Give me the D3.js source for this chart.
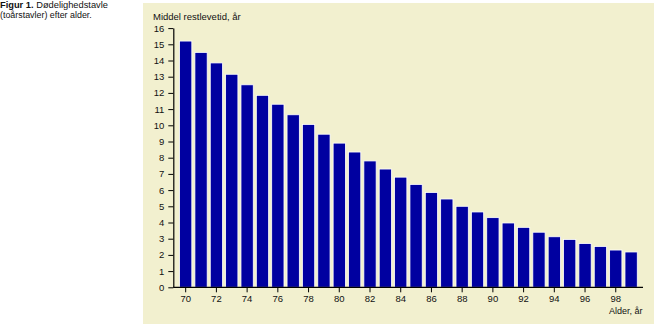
<!DOCTYPE html>
<html>
<head>
<meta charset="utf-8">
<script src="https://cdn.jsdelivr.net/npm/d3@7"></script>
<style>
  html, body { margin: 0; padding: 0; background: #ffffff; }
  svg { display: block; }
  text { font-family: "Liberation Sans", Arial, sans-serif; fill: #111; }
</style>
</head>
<body>
<script>
// Data
const ages = [70,71,72,73,74,75,76,77,78,79,80,81,82,83,84,85,86,87,88,89,90,91,92,93,94,95,96,97,98,99];
const restlevetid = [15.2,14.5,13.85,13.15,12.5,11.85,11.3,10.65,10.05,9.45,8.9,8.35,7.8,7.3,6.8,6.35,5.85,5.45,5.0,4.65,4.3,3.97,3.7,3.4,3.12,2.95,2.7,2.52,2.3,2.18];
const yTicks = [0,1,2,3,4,5,6,7,8,9,10,11,12,13,14,15,16];
const xTickLabels = [70,72,74,76,78,80,82,84,86,88,90,92,94,96,98];
const captionBold = "Figur 1.";
const captionRest1 = " Dødelighedstavle";
const captionLine2 = "(toårstavler) efter alder.";
const yTitle = "Middel restlevetid, år";
const xTitle = "Alder, år";

const W = 654, H = 324;
const svg = d3.select("body").append("svg").attr("width", W).attr("height", H);

// panel background
svg.append("rect").attr("x", 143).attr("y", 3).attr("width", W - 143).attr("height", H - 3)
  .attr("fill", "#f2f0cf");

// caption
const cap = svg.append("text").attr("x", 0).attr("y", 8).style("font-size", "9.3px");
cap.append("tspan").attr("font-weight", "bold").text(captionBold);
cap.append("tspan").text(captionRest1);
svg.append("text").attr("x", 0).attr("y", 18).style("font-size", "8.9px").text(captionLine2);

// scales
const y = d3.scaleLinear().domain([0, 16]).range([287.3, 28.1]);
const x = d3.scaleBand().domain(ages).range([178.0, 638.8]).paddingInner(0.2).paddingOuter(0.1);

const axisX = 173.3;

// bars
svg.append("g").selectAll("rect").data(ages).join("rect")
  .attr("x", (d) => x(d))
  .attr("width", x.bandwidth())
  .attr("y", (d, i) => y(restlevetid[i]))
  .attr("height", (d, i) => y(0) - y(restlevetid[i]))
  .attr("fill", "#0000a0")
  .attr("stroke", "#ffffff")
  .attr("stroke-width", 0.8);

// y axis
const gy = svg.append("g").attr("transform", `translate(${axisX},0)`)
  .call(d3.axisLeft(y).tickValues(yTicks).tickFormat(d3.format("d")).tickSize(5).tickSizeOuter(0).tickPadding(4));
gy.select(".domain").attr("stroke", "#000").attr("stroke-width", 1.2);
gy.selectAll(".tick line").attr("stroke", "#000");
gy.selectAll(".tick text").style("font-size", "9.5px").attr("font-family", null).attr("fill", "#111");

// x axis
const gx = svg.append("g").attr("transform", `translate(0,${y(0)})`);
gx.append("line").attr("x1", axisX).attr("x2", 643).attr("y1", 0).attr("y2", 0)
  .attr("stroke", "#000").attr("stroke-width", 1.2);
const xt = gx.selectAll("g.xt").data(xTickLabels).join("g").attr("class", "xt")
  .attr("transform", (d) => `translate(${x(d) + x.bandwidth() / 2},0)`);
xt.append("line").attr("y1", 0).attr("y2", 5).attr("stroke", "#000");
xt.append("text").attr("y", 14.8).attr("text-anchor", "middle").style("font-size", "9.5px").text((d) => d);

// titles
svg.append("text").attr("x", 153).attr("y", 20).style("font-size", "9.5px").text(yTitle);
svg.append("text").attr("x", 609).attr("y", 314).style("font-size", "9px").text(xTitle);
</script>
</body>
</html>
